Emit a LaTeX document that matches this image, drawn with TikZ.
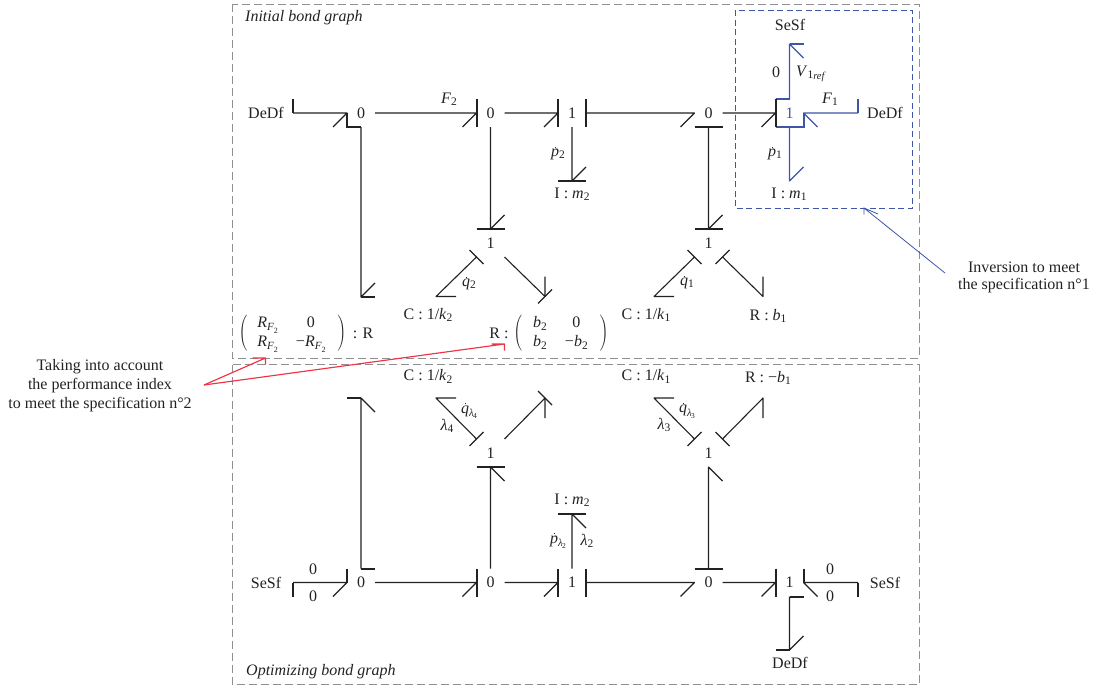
\documentclass[tikz,border=0pt]{standalone}
\usepackage{fontspec}
\setmainfont{Liberation Serif}
\definecolor{ink}{HTML}{222222}
\definecolor{bluec}{HTML}{3F55A5}
\definecolor{redc}{HTML}{EE3344}
\definecolor{frame}{HTML}{909090}
\newcommand\sbs[1]{\raisebox{-0.3ex}{\fontsize{11.5}{12}\selectfont #1}}
\newcommand\ssbs[1]{\raisebox{-0.5ex}{\fontsize{10.5}{11}\selectfont\textit{#1}}}
\newcommand\iv[1]{\textit{#1}}
\newcommand\dt[1]{\ooalign{\iv{#1}\cr\hidewidth\kern1pt\raisebox{8.6pt}{\rule{1.4pt}{1.4pt}}\hidewidth\cr}}
\newcommand\lamsub[1]{\ssbs{λ}\hspace{-0.5pt}\raisebox{-0.75ex}{\fontsize{7.5}{8}\selectfont #1}}
\newcommand\rfsub{\iv{R}\raisebox{-0.42ex}{\fontsize{11}{12}\selectfont\textit{F}}\raisebox{-0.75ex}{\fontsize{8}{9}\selectfont 2}}
\newcommand\bond[4]{\draw[bondline] (#1) -- (#2) -- ++(#3,#4);}
\newcommand\mtx[1]{$\left(\vcenter{\hbox{\setlength{\tabcolsep}{0pt}\renewcommand{\arraystretch}{1}#1}}\right)$}
\tikzset{
  x=1pt,y=-1pt,
  base/.style={font=\fontsize{16}{19}\selectfont, text=ink, inner sep=0pt},
  junction/.style={base, minimum size=28pt, outer sep=0pt},
  lab/.style={base},
  bondline/.style={draw=ink, line width=1.1pt, line join=round},
  stroke/.style={draw=ink, line width=2pt, line cap=butt},
  framebox/.style={draw=frame, line width=1pt, dash pattern=on 8pt off 4pt},
  bluebox/.style={draw=bluec, line width=0.9pt, dash pattern=on 6pt off 3.5pt},
}
\begin{document}
\begin{tikzpicture}
\useasboundingbox (0,0) rectangle (1094,688);
% frames
\coordinate (fa1) at (232,4); \coordinate (fa2) at (919,358);
\coordinate (fb1) at (232,364.5); \coordinate (fb2) at (919,684);
\coordinate (fc1) at (735,10); \coordinate (fc2) at (912.5,208);
\draw[framebox] (fa1) rectangle (fa2);
\draw[framebox] (fb1) rectangle (fb2);
\draw[bluebox] (fc1) rectangle (fc2);
\node[base,anchor=west,font=\fontsize{16}{19}\itshape] (title1) at (245,18) {Initial bond graph};
\node[base,anchor=west,font=\fontsize{16}{19}\itshape] (title2) at (246,671.5) {Optimizing bond graph};

% ---------- junctions, top
\node[junction] (j0a) at (361,113) {0};
\node[junction] (j0b) at (490.5,113) {0};
\node[junction] (j1a) at (572,113) {1};
\node[junction] (j0c) at (708.5,113) {0};
\node[junction,text=bluec] (j1d) at (789.5,113) {1};
\node[junction] (j1b) at (490.5,243) {1};
\node[junction] (j1c) at (708.5,243) {1};
% ---------- junctions, bottom
\node[junction] (k0a) at (361,582.5) {0};
\node[junction] (k0b) at (490.5,582.5) {0};
\node[junction] (k1a) at (572,582.5) {1};
\node[junction] (k0c) at (708.5,582.5) {0};
\node[junction] (k1d) at (789.5,582.5) {1};
\node[junction] (k1b) at (490.5,453) {1};
\node[junction] (k1c) at (708.5,453) {1};

% ---------- element labels, top
\node[lab] (dedfA) at (266,113) {DeDf};
\node[lab] (iM2) at (572,194) {I : \iv{m}\sbs{2}};
\node[lab] (cK2) at (428,315) {C : 1/\iv{k}\sbs{2}};
\node[lab] (cK1) at (646,315) {C : 1/\iv{k}\sbs{1}};
\node[lab] (rB1) at (768,316) {R : \iv{b}\sbs{1}};
\node[lab] (lF2) at (449,99) {\iv{F}\sbs{2}};
\node[lab] (lP2) at (558,154) {\dt{p}\sbs{2}};
\node[lab] (lQ2) at (469,284) {\dt{q}\sbs{2}};
\node[lab] (lQ1) at (687,283) {\dt{q}\sbs{1}};
% blue labels
\begin{scope}[every node/.append style={text=bluec}]
\node[lab] (seSfB) at (790,25) {SeSf};
\node[lab] (lZero) at (776,72) {0};
\node[lab] (lVref) at (811,74) {\iv{V}\sbs{1}\ssbs{ref}};
\node[lab] (lF1) at (830,99) {\iv{F}\sbs{1}};
\node[lab] (dedfB) at (885,113) {DeDf};
\node[lab] (lP1) at (775,154) {\dt{p}\sbs{1}};
\node[lab] (iM1) at (789,194) {I : \iv{m}\sbs{1}};
\node[lab,align=center,font=\fontsize{16}{17}\selectfont] (tBlue) at (1024,277) {Inversion to meet\\the specification n°1};
\end{scope}
% red labels
\begin{scope}[every node/.append style={text=redc}]
\node[lab,align=center,font=\fontsize{16}{19}\selectfont] (tRed) at (100,386) {Taking into account\\the performance index\\to meet the specification n°2};
\node[lab] (mL) at (292.5,333.5) {\mtx{\begin{tabular}{@{\hspace{10pt}}c@{\hspace{18pt}}c@{\hspace{12pt}}}\rfsub & 0\\ \rfsub & −\rfsub\end{tabular}}};
\node[lab] (mLr) at (363,333) {: R};
\node[lab] (mRl) at (499,333) {R :};
\node[lab] (mR) at (561,333.5) {\mtx{\begin{tabular}{@{\hspace{11pt}}c@{\hspace{18pt}}c@{\hspace{12pt}}}\iv{b}\sbs{2} & 0\\ \iv{b}\sbs{2} & −\iv{b}\sbs{2}\end{tabular}}};
\end{scope}

% ---------- element labels, bottom
\node[lab] (cK2b) at (428,376.5) {C : 1/\iv{k}\sbs{2}};
\node[lab] (cK1b) at (646,376.5) {C : 1/\iv{k}\sbs{1}};
\node[lab] (rB1b) at (768,378) {R : −\iv{b}\sbs{1}};
\node[lab] (iM2b) at (572,500) {I : \iv{m}\sbs{2}};
\node[lab] (seSfC) at (266,583) {SeSf};
\node[lab] (seSfD) at (885,583) {SeSf};
\node[lab] (dedfC) at (790,663) {DeDf};
\node[lab] (z1) at (313,569) {0};
\node[lab] (z2) at (313,596) {0};
\node[lab] (z3) at (830,569) {0};
\node[lab] (z4) at (830,596) {0};
\node[lab] (lQl4) at (469,412) {\dt{q}\lamsub{4}};
\node[lab] (lL4) at (447,426) {\iv{λ}\sbs{4}};
\node[lab] (lQl3) at (687,412) {\dt{q}\lamsub{3}};
\node[lab] (lL3) at (664,425) {\iv{λ}\sbs{3}};
\node[lab] (lPl2) at (558,542) {\dt{p}\lamsub{2}};
\node[lab] (lL2) at (587,541) {\iv{λ}\sbs{2}};

% ---------- free ends
\coordinate (pA) at (293,113);
\coordinate (pRF) at (361,297);
\coordinate (pI2) at (572,181);
\coordinate (pC2) at (436,296.5);
\coordinate (pR2) at (545,296.5);
\coordinate (pC1) at (654,296.5);
\coordinate (pB1) at (763,296.5);
\coordinate (pS) at (789.5,44);
\coordinate (pD) at (858,113);
\coordinate (pI1) at (789.5,181);
\coordinate (qA) at (293,582.5);
\coordinate (qRF) at (361,398);
\coordinate (qI2) at (572,514);
\coordinate (qC2) at (436,398);
\coordinate (qR2) at (545,398);
\coordinate (qC1) at (654,398);
\coordinate (qB1) at (763,398);
\coordinate (qS) at (858,582.5);
\coordinate (qD) at (789.5,650);

% ---------- bonds, top
\bond{pA}{j0a.west}{-14}{14}
\bond{j0a.east}{j0b.west}{-14}{14}
\bond{j0b.east}{j1a.west}{-14}{14}
\bond{j1a.east}{j0c.west}{-14}{14}
\bond{j0c.east}{j1d.west}{-14}{14}
\bond{j0a.south}{pRF}{14}{-14}
\bond{j0b.south}{j1b.north}{14}{-14}
\bond{j0c.south}{j1c.north}{14}{-14}
\bond{j1a.south}{pI2}{14}{-14}
\bond{j1b.south west}{pC2}{20}{0}
\bond{j1b.south east}{pR2}{0}{-20}
\bond{j1c.south west}{pC1}{20}{0}
\bond{j1c.south east}{pB1}{0}{-20}
% strokes, top
\draw[stroke] (pA) -- ++(0,-14);
\draw[stroke] (j0a.west) -- (j0a.south west) -- (j0a.south);
\draw[stroke] (pRF) -- ++(14,0);
\draw[stroke] (j0b.north west) -- (j0b.south west);
\draw[stroke] (j1a.north west) -- (j1a.south west);
\draw[stroke] (j1a.north east) -- (j1a.south east);
\draw[stroke] (j0c.south west) -- (j0c.south east);
\draw[stroke] (j1b.north west) -- (j1b.north east);
\draw[stroke] (j1c.north west) -- (j1c.north east);
\draw[stroke] (pI2) ++(-14,0) -- ++(28,0);
\draw[stroke,line width=1.3pt] (j1b.south west) ++(-7,-7) -- ++(14,14);
\draw[stroke,line width=1.3pt] (pR2) ++(-7,7) -- ++(14,-14);
\draw[stroke,line width=1.3pt] (j1c.south west) ++(-7,-7) -- ++(14,14);
\draw[stroke,line width=1.3pt] (j1c.south east) ++(-7,7) -- ++(14,-14);
% blue bonds
\begin{scope}[bondline/.append style={draw=bluec}, stroke/.append style={draw=bluec}]
\bond{j1d.north}{pS}{14}{14}
\bond{pD}{j1d.east}{14}{14}
\bond{j1d.south}{pI1}{14}{-14}
\draw[stroke] (pS) -- ++(14,0);
\draw[stroke] (pD) -- ++(0,-14);
\draw[stroke] (j1d.north west) -- (j1d.north);
\draw[stroke] (j1d.south west) -- (j1d.south east) -- (j1d.east);
\end{scope}
\draw[stroke] (j1d.north west) -- (j1d.south west);

% ---------- bonds, bottom
\bond{qA}{k0a.west}{-14}{14}
\bond{k0a.east}{k0b.west}{-14}{14}
\bond{k0b.east}{k1a.west}{-14}{14}
\bond{k1a.east}{k0c.west}{-14}{14}
\bond{k0c.east}{k1d.west}{-14}{14}
\bond{qS}{k1d.east}{14}{14}
\bond{k0a.north}{qRF}{14}{14}
\bond{k0b.north}{k1b.south}{14}{14}
\bond{k0c.north}{k1c.south}{14}{14}
\bond{k1a.north}{qI2}{14}{14}
\bond{k1d.south}{qD}{14}{-14}
\bond{k1b.north west}{qC2}{20}{0}
\bond{k1b.north east}{qR2}{0}{20}
\bond{k1c.north west}{qC1}{20}{0}
\bond{k1c.north east}{qB1}{0}{20}
% strokes, bottom
\draw[stroke] (qA) -- ++(0,14);
\draw[stroke] (k0a.west) -- (k0a.north west);
\draw[stroke] (k0a.north) -- (k0a.north east);
\draw[stroke] (qRF) -- ++(-14,0);
\draw[stroke] (k0b.north west) -- (k0b.south west);
\draw[stroke] (k1a.north west) -- (k1a.south west);
\draw[stroke] (k1a.north east) -- (k1a.south east);
\draw[stroke] (k0c.north west) -- (k0c.north east);
\draw[stroke] (k1d.north west) -- (k1d.south west);
\draw[stroke] (k1d.north east) -- (k1d.east);
\draw[stroke] (k1d.south) -- (k1d.south east);
\draw[stroke] (qS) -- ++(0,14);
\draw[stroke] (qD) -- ++(-14,0);
\draw[stroke] (qI2) ++(-14,0) -- ++(28,0);
\draw[stroke] (k1b.south west) -- (k1b.south east);
\draw[stroke,line width=1.3pt] (k1b.north west) ++(-7,7) -- ++(14,-14);
\draw[stroke,line width=1.3pt] (qR2) ++(-7,-7) -- ++(14,14);
\draw[stroke,line width=1.3pt] (k1c.north west) ++(-7,7) -- ++(14,-14);
\draw[stroke,line width=1.3pt] (k1c.north east) ++(-7,-7) -- ++(14,14);

% ---------- leaders
\coordinate (lbS) at (945,273);
\coordinate (lbT) at (864,208);
\draw[draw=bluec,line width=0.8pt] (lbS) -- (lbT) -- ++(0,6.5) (lbT) -- ++(14,6);
\coordinate (lrS) at (204,385);
\coordinate (lrA) at (265.5,358);
\coordinate (lrB) at (504.5,344);
\draw[draw=redc,line width=1.15pt,line join=round] (lrS) -- (lrA) -- ++(0,6.5) (lrA) -- ++(-13,0);
\draw[draw=redc,line width=1.15pt,line join=round] (lrS) -- (lrB) -- ++(0,6.5) (lrB) -- ++(-13,0);
\end{tikzpicture}
\end{document}
